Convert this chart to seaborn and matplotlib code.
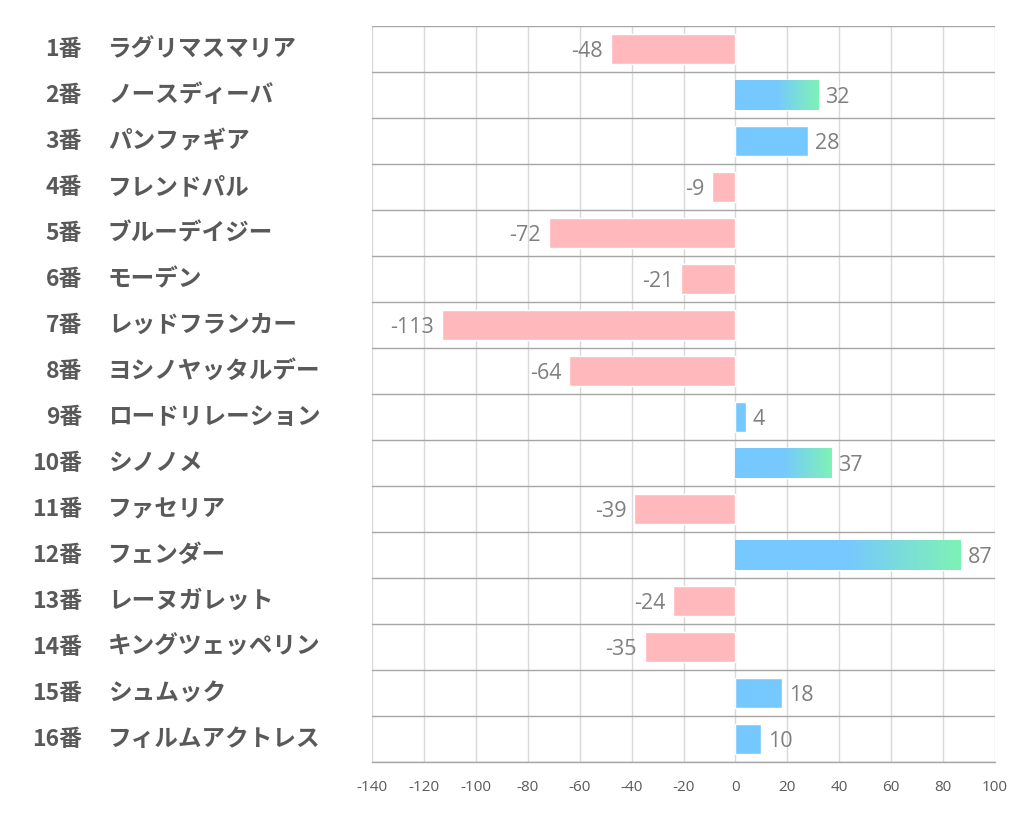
import matplotlib
matplotlib.use("Agg")
import matplotlib.pyplot as plt
import seaborn as sns
import numpy as np
import pandas as pd
from matplotlib.colors import LinearSegmentedColormap

numbers = ["1番", "2番", "3番", "4番", "5番", "6番", "7番", "8番",
           "9番", "10番", "11番", "12番", "13番", "14番", "15番", "16番"]
names = ["ラグリマスマリア", "ノースディーバ", "パンファギア", "フレンドパル",
         "ブルーデイジー", "モーデン", "レッドフランカー", "ヨシノヤッタルデー",
         "ロードリレーション", "シノノメ", "ファセリア", "フェンダー",
         "レーヌガレット", "キングツェッペリン", "シュムック", "フィルムアクトレス"]
values = [-48, 32, 28, -9, -72, -21, -113, -64, 4, 37, -39, 87, -24, -35, 18, 10]
x_ticks = list(range(-140, 101, 20))

PINK = "#FFB8BB"
BLUE = "#76C9FE"
GREEN = "#7EF2B5"
GRADIENT_MIN = 30  # bars at or above this get the blue->green fade

sns.set_theme(style="white")
plt.rcParams["font.family"] = ["Noto Sans CJK JP", "DejaVu Sans"]

df = pd.DataFrame({"horse": names, "value": values})
df["sign"] = np.where(df["value"] < 0, "neg", "pos")

fig = plt.figure(figsize=(10.22, 8.34), dpi=100)
ax = fig.add_axes([0.364, 0.0863, 0.6096, 0.8825])

sns.barplot(data=df, x="value", y="horse", hue="sign", orient="h",
            palette={"neg": PINK, "pos": BLUE}, width=0.65,
            legend=False, ax=ax, saturation=1)

# gradient fill on the longer positive bars
cmap = LinearSegmentedColormap.from_list("bg", [BLUE, BLUE, GREEN], N=256)
grad = np.linspace(0, 1, 256).reshape(1, -1)
for patch in ax.patches:
    w = patch.get_width()
    if w >= GRADIENT_MIN:
        x0, y0 = patch.get_x(), patch.get_y()
        h = patch.get_height()
        im = ax.imshow(grad, cmap=cmap, aspect="auto",
                       extent=[x0, x0 + w, y0 + h, y0], zorder=patch.get_zorder() + 0.1)
        im.set_clip_path(patch)

# value labels
for i, v in enumerate(values):
    if v < 0:
        ax.text(v - 3, i + 0.05, str(v), ha="right", va="center",
                fontsize=15.5, color="#7F7F7F", family=["Open Sans", "DejaVu Sans"])
    else:
        ax.text(v + 2.5, i + 0.05, str(v), ha="left", va="center",
                fontsize=15.5, color="#7F7F7F", family=["Open Sans", "DejaVu Sans"])

ax.set_xlim(-140, 100)
ax.set_ylim(len(values) - 0.5, -0.5)
ax.set_xticks(x_ticks)
ax.set_xticklabels([str(t) for t in x_ticks], fontsize=11, color="#595959",
                   family=["Open Sans", "DejaVu Sans"])
ax.tick_params(axis="x", length=0, pad=13)
ax.set_yticks([])
ax.set_yticks(np.arange(-0.5, len(values), 1), minor=True)
ax.tick_params(axis="y", which="both", length=0)
ax.set_xlabel("")
ax.set_ylabel("")

ax.grid(axis="x", which="major", color="#D9D9D9", linewidth=1)
ax.grid(axis="y", which="minor", color="#A6A6A6", linewidth=1)
ax.set_axisbelow(True)
for side in ["left", "right", "top"]:
    ax.spines[side].set_visible(False)
ax.spines["bottom"].set_color("#A6A6A6")
ax.spines["bottom"].set_linewidth(1)

# left-hand labels: number column and name column
for i, (num, nm) in enumerate(zip(numbers, names)):
    ax.text(-0.4655, i, num, transform=ax.get_yaxis_transform(),
            ha="right", va="center", fontsize=16.5, fontweight="bold", color="#595959")
    ax.text(-0.4238, i, nm, transform=ax.get_yaxis_transform(),
            ha="left", va="center", fontsize=17, fontweight="bold", color="#595959")

fig.savefig("out.png", dpi=100, facecolor="white")
